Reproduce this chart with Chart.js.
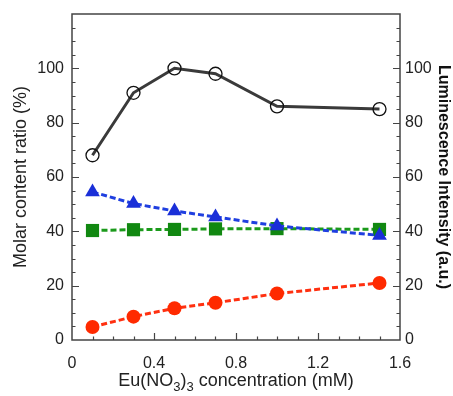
<!DOCTYPE html>
<html>
<head>
<meta charset="utf-8">
<script src="https://cdn.jsdelivr.net/npm/chart.js@4"></script>
<style>
  html, body { margin: 0; padding: 0; background: #fff; }
  #wrap { width: 453px; height: 396px; }
</style>
</head>
<body>
<div id="wrap"><canvas id="myChart" width="453" height="396"></canvas></div>
<script>
// concentrations of Eu(NO3)3 in mM
let conc = [0.1, 0.3, 0.5, 0.7, 1.0, 1.5]
// luminescence intensity (a.u.), right axis
let lumi = [68, 91, 100, 98, 86, 85]
// molar content ratio (%), left axis
let blueTri = [54.5, 50.2, 47.5, 45.3, 42, 38.5]
let greenSq = [40.3, 40.6, 40.7, 40.9, 41, 40.7]
let redDot = [4.8, 8.6, 11.7, 13.7, 17.1, 21]
let xTicks = [0, 0.4, 0.8, 1.2, 1.6]
let yTicks = [0, 20, 40, 60, 80, 100]

const font = "'Liberation Sans', Arial, Helvetica, sans-serif";
const ctx = document.getElementById('myChart');

function pts(ys) {
    return conc.map((x, i) => ({x: x, y: ys[i]}));
}

const frame = {
    id: 'frame_ticks',
    afterDraw: (chart) => {
        const c = chart.ctx;
        const a = chart.chartArea;
        const sx = chart.scales.x, sy = chart.scales.y;
        c.save();
        c.strokeStyle = '#444';
        c.lineWidth = 1.5;
        c.strokeRect(a.left, a.top, a.right - a.left, a.bottom - a.top);
        c.lineWidth = 1.2;
        c.beginPath();
        // y ticks, left and right, inside
        for (let v = 5; v < sy.max; v += 5) {
            let p = Math.round(sy.getPixelForValue(v)) + 0.5;
            let len = (v % 20 === 0) ? 7 : 3.5;
            c.moveTo(a.left, p); c.lineTo(a.left + len, p);
            c.moveTo(a.right, p); c.lineTo(a.right - len, p);
        }
        // x ticks, bottom, inside
        for (let i = 1; i < 16; i++) {
            let p = Math.round(sx.getPixelForValue(i / 10)) + 0.5;
            let len = (i % 4 === 0) ? 7 : 3.5;
            c.moveTo(p, a.bottom); c.lineTo(p, a.bottom - len);
        }
        c.stroke();

        // x axis title with subscripts
        c.fillStyle = '#222';
        c.textBaseline = 'alphabetic';
        const big = '18px ' + font, small = '13px ' + font;
        const parts = [['Eu(NO', big, 0], ['3', small, 5], [')', big, 0], ['3', small, 5], [' concentration (mM)', big, 0]];
        let w = 0;
        parts.forEach(p => { c.font = p[1]; w += c.measureText(p[0]).width; });
        let x = (a.left + a.right) / 2 - w / 2;
        const base = 386;
        parts.forEach(p => {
            c.font = p[1];
            c.fillText(p[0], x, base + p[2]);
            x += c.measureText(p[0]).width;
        });
        c.restore();
    }
};

function fitY(w) {
    return (s) => { s.width = w; s.paddingTop = 0; s.paddingBottom = 0; };
}

const myChart = new Chart(ctx, {
    type: 'line',
    data: {
        datasets: [
            {
                label: 'Luminescence',
                data: pts(lumi),
                yAxisID: 'y2',
                borderColor: '#3a3a3a',
                borderWidth: 3,
                pointStyle: 'circle',
                pointRadius: 6.5,
                pointBorderColor: '#111',
                pointBorderWidth: 1.3,
                pointBackgroundColor: 'rgba(255,255,255,0)',
                tension: 0
            },
            {
                label: 'blue',
                data: pts(blueTri),
                yAxisID: 'y',
                borderColor: '#1f3fe0',
                borderWidth: 3,
                borderDash: [6, 3],
                pointStyle: 'triangle',
                pointRadius: 8.5,
                pointBorderWidth: 0,
                pointBackgroundColor: '#1a2fd8',
                tension: 0
            },
            {
                label: 'green',
                data: pts(greenSq),
                yAxisID: 'y',
                borderColor: '#1b9a1b',
                borderWidth: 3,
                borderDash: [6, 3],
                pointStyle: 'rect',
                pointRadius: 9.3,
                pointBorderWidth: 0,
                pointBackgroundColor: '#118811',
                tension: 0
            },
            {
                label: 'red',
                data: pts(redDot),
                yAxisID: 'y',
                borderColor: '#ff3010',
                borderWidth: 3,
                borderDash: [6, 3],
                pointStyle: 'circle',
                pointRadius: 7,
                pointBorderWidth: 0,
                pointBackgroundColor: '#ff2a00',
                tension: 0
            }
        ]
    },
    options: {
        responsive: false,
        animation: false,
        layout: { padding: { top: 14, left: 0, right: 0, bottom: 0 } },
        plugins: {
            legend: { display: false },
            tooltip: { enabled: false }
        },
        scales: {
            x: {
                type: 'linear',
                min: 0,
                max: 1.6,
                grid: { display: false, drawTicks: false },
                border: { display: false },
                afterBuildTicks: (s) => { s.ticks = xTicks.map(v => ({value: v})); },
                ticks: {
                    padding: 14,
                    color: '#222',
                    font: { family: font, size: 16 },
                    callback: (v) => v === 0 ? '0' : v.toFixed(1)
                },
                afterFit: (s) => { s.height = 56; s.paddingLeft = 0; s.paddingRight = 0; }
            },
            y: {
                position: 'left',
                min: 0,
                max: 120,
                grid: { display: false, drawTicks: false },
                border: { display: false },
                afterBuildTicks: (s) => { s.ticks = yTicks.map(v => ({value: v})); },
                ticks: {
                    padding: 8,
                    color: '#222',
                    font: { family: font, size: 16 }
                },
                title: {
                    display: true,
                    text: 'Molar content ratio (%)',
                    color: '#222',
                    font: { family: font, size: 18 },
                    padding: { top: 10, bottom: 0 }
                },
                afterFit: fitY(72)
            },
            y2: {
                position: 'right',
                min: 0,
                max: 120,
                grid: { display: false, drawTicks: false },
                border: { display: false },
                afterBuildTicks: (s) => { s.ticks = yTicks.map(v => ({value: v})); },
                ticks: {
                    padding: 5,
                    color: '#222',
                    font: { family: font, size: 16 }
                },
                title: {
                    display: true,
                    text: 'Luminescence Intensity (a.u.)',
                    color: '#111',
                    font: { family: font, size: 16, weight: 'bold' },
                    padding: { top: 0, bottom: 0 }
                },
                afterFit: fitY(53)
            }
        }
    },
    plugins: [frame]
});
</script>
</body>
</html>
